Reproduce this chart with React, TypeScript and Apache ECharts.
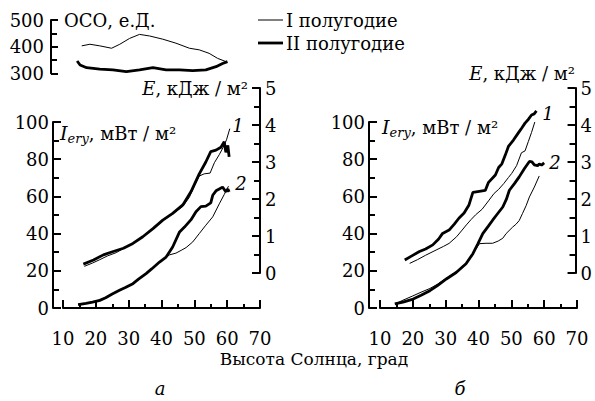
import React, { useEffect, useRef } from "react";
import * as echarts from "echarts";

// ---- data (x = solar elevation, deg) ----
const xTicks = [10, 20, 30, 40, 50, 60, 70];

// Total ozone, OCO (DU)
const ozoneH1: [number, number][] = [[15.7,403],[18.2,409],[21.2,403],[24.8,394],[27.3,409],[30.3,431],[33.3,446],[36.4,440],[40.4,428],[44.4,413],[48.5,394],[51.5,388],[54.5,375],[57.1,356],[59.6,344]];
const ozoneH2: [number, number][] = [[14.3,346],[15.2,331],[17.2,321],[21.2,316],[25.2,313],[29.3,306],[33.3,313],[37.4,321],[41.4,313],[45.5,313],[49.5,310],[53.5,313],[56.6,325],[58.6,337],[60.1,344]];

// Panel a: curve 2 = I_ery (mW/m2), curve 1 = E (kJ/m2)
const aIeryH1: [number, number][] = [[14.6,1.8],[17,2.4],[19,3.3],[21.2,4.3],[23,5.6],[25,7.4],[27.2,9.6],[29,11.2],[31.3,13.3],[33,15.4],[35.3,18.3],[37,21.2],[39.4,24.5],[41,26.8],[42.5,28.6],[44.4,29.5],[46,31],[47.5,32.5],[49.5,35.5],[51.5,40],[53.5,44.5],[55.6,49],[57.6,56],[59.1,61],[60.4,65.5]];
const aIeryH2: [number, number][] = [[14.6,1.8],[17,2.5],[19,3.2],[21.2,4.1],[23,5.5],[25,7.5],[27.2,9.5],[29,11],[31.3,13.1],[33,15.5],[35.3,18.5],[37,21],[39.4,24.7],[41.4,27.4],[43.4,32.8],[45.5,40.9],[47,43.5],[49,47.5],[50.5,51.8],[52,54.5],[53.5,54.8],[55,56.5],[55.6,60.6],[56.6,63],[57.6,64],[58.6,65],[59.6,62.5],[60.2,64],[60.6,62.4]];
const aDoseH1: [number, number][] = [[16.5,0.18],[19,0.27],[21.2,0.36],[23.5,0.46],[26.2,0.55],[28.4,0.66],[31.3,0.8],[34.3,0.97],[37.4,1.19],[40.4,1.42],[43.4,1.6],[46.5,1.8],[48.5,2.05],[50,2.35],[51.5,2.62],[53,2.68],[54.8,2.7],[56.1,2.98],[57.6,3.2],[58.8,3.4],[59.8,3.6],[60.8,3.9]];
const aDoseH2: [number, number][] = [[16.2,0.24],[19.3,0.35],[22.3,0.49],[25.3,0.58],[28.4,0.67],[31.3,0.8],[34.3,0.98],[37.4,1.2],[40.4,1.43],[43.4,1.61],[46.5,1.84],[49,2.2],[51.5,2.68],[53.5,3.0],[55,3.28],[56.6,3.32],[58.1,3.4],[59.1,3.55],[59.6,3.26],[60.2,3.45],[60.6,3.14]];

// Panel b
const bIeryH1: [number, number][] = [[15,2.5],[17,4.2],[20,6.5],[22.5,8.5],[25.2,10.5],[27.5,12.8],[30.2,16],[33.2,19.5],[36.2,24],[38.3,29.5],[39.3,32],[40.3,34.6],[42.3,34.8],[44.3,34.8],[46,36],[47.4,37.5],[48.4,40],[50.4,43.5],[51.4,45],[52.4,47],[53.4,50.8],[54.5,55],[55.5,59.7],[57,65],[58.5,71]];
const bIeryH2: [number, number][] = [[14.5,2.2],[17,3.2],[20.1,4.8],[22.5,6.8],[25.2,9.3],[27.5,12],[30.2,15.6],[33.2,19.1],[36.2,23.8],[38.3,29.2],[39.8,34.5],[41.3,40],[43,44],[44.3,47.2],[45.5,50],[47.4,54.3],[48.5,58.5],[49.4,63.3],[51,67],[52.4,70.5],[54,75],[55.5,78.8],[56.3,78.5],[57,77],[58,76.5],[58.5,77.5],[59.2,76.8],[60,78]];
const bDoseH1: [number, number][] = [[19.1,0.26],[21.5,0.36],[24,0.48],[27.2,0.62],[29.5,0.72],[31.2,0.8],[33.5,0.98],[35.2,1.16],[36.5,1.3],[38,1.45],[39.3,1.57],[41.3,1.72],[43.3,1.95],[45,2.15],[46.4,2.26],[48,2.42],[49.4,2.58],[50.4,2.69],[51.9,2.9],[53.4,3.25],[54.5,3.3],[55.5,3.55],[56.5,3.8],[57.5,4.08]];
const bDoseH2: [number, number][] = [[17.6,0.35],[19.5,0.45],[22.1,0.58],[24,0.65],[26.2,0.76],[28,0.92],[29.2,1.07],[31.2,1.16],[32.8,1.32],[34.2,1.48],[35.8,1.62],[37.3,1.84],[38.5,2.18],[40,2.2],[42.3,2.23],[43.3,2.45],[45.4,2.65],[46.4,2.85],[47.4,2.95],[48.5,3.2],[49.4,3.42],[51,3.6],[52.4,3.78],[53.5,3.92],[54.5,4.05],[55.5,4.15],[56.5,4.27],[57.3,4.3],[58,4.38]];

const legendNames = ["I полугодие", "II полугодие"];

const FONT = '"DejaVu Serif", "Liberation Serif", serif';
const FS = 18;
const THIN = 1;
const THICK = 2.8;

export default function App() {
  const ref = useRef<HTMLDivElement>(null);
  useEffect(() => {
    if (!ref.current) return;
    const chart = echarts.init(ref.current, undefined, { renderer: "svg" });

    const axisLine = { show: true, lineStyle: { color: "#000", width: 2 } };
    const label = (margin: number) => ({ color: "#000", fontFamily: FONT, fontSize: FS, margin });

    const hiddenX = (gridIndex: number) => ({ type: "value", gridIndex, min: 10, max: 70, interval: 10, show: false });

    const yAxis = (gridIndex: number, min: number, max: number, interval: number, position: string, offset: number, margin: number, tickLen: number, minorLen: number) => ({
      type: "value", gridIndex, min, max, interval, position, offset,
      axisLine, splitLine: { show: false },
      axisTick: { show: true, inside: true, length: tickLen, lineStyle: { color: "#000", width: 2 } },
      minorTick: { show: true, splitNumber: 2, length: minorLen, lineStyle: { color: "#000", width: 2 } },
      axisLabel: label(margin),
    });

    const shownX = (gridIndex: number) => ({
      type: "value", gridIndex, min: xTicks[0], max: xTicks[xTicks.length - 1], interval: 10, offset: 14,
      axisLine, splitLine: { show: false },
      axisTick: { show: true, inside: true, length: 8, lineStyle: { color: "#000", width: 2 } },
      minorTick: { show: true, splitNumber: 2, length: 4, lineStyle: { color: "#000", width: 2 } },
      axisLabel: label(7),
    });

    const line = (data: [number, number][], width: number, idx: number, name: string) => ({
      type: "line", name, data, xAxisIndex: idx, yAxisIndex: idx, showSymbol: false, symbol: "none",
      lineStyle: { color: "#000", width }, clip: false, z: width > 1 ? 3 : 4,
    });

    const txt = (x: number, y: number, text: string, align: string, extra: any = {}) => ({
      type: "text", x, y, silent: true,
      style: { text, fill: "#000", font: `${FS}px ${FONT}`, fontFamily: FONT, fontSize: FS, align, textAlign: align, verticalAlign: "middle", textVerticalAlign: "middle", ...extra },
    });

    const richE = {
      e: { fontFamily: FONT, fontSize: FS, fontStyle: "italic", fill: "#000", color: "#000" },
      n: { fontFamily: FONT, fontSize: FS, fill: "#000", color: "#000" },
    };
    const richI = {
      i: { fontFamily: FONT, fontSize: FS + 1, fontStyle: "italic", fill: "#000", color: "#000", lineHeight: 24 },
      s: { fontFamily: FONT, fontSize: 13, fontStyle: "italic", fill: "#000", color: "#000", lineHeight: 24, verticalAlign: "bottom", padding: [8, 0, 0, 0] },
      n: { fontFamily: FONT, fontSize: FS, fill: "#000", color: "#000", lineHeight: 24 },
    };

    const option: any = {
      animation: false,
      backgroundColor: "#fff",
      grid: [
        { left: 63, top: 20, width: 197, height: 53.3 },
        { left: 63, top: 122, width: 197, height: 186 },
        { left: 63, top: 88, width: 197, height: 185 },
        { left: 380, top: 122, width: 197, height: 186 },
        { left: 380, top: 88, width: 197, height: 185 },
      ],
      xAxis: [hiddenX(0), shownX(1), hiddenX(2), shownX(3), hiddenX(4)],
      yAxis: [
        yAxis(0, 300, 500, 100, "left", 12, 7, 7, 6),
        yAxis(1, 0, 100, 20, "left", 10, 4, 8, 6),
        yAxis(2, 0, 5, 1, "right", 0, 5, 8, 6),
        yAxis(3, 0, 100, 20, "left", 11, 4, 8, 6),
        yAxis(4, 0, 5, 1, "right", 0, 5, 8, 6),
      ],
      series: [
        line(ozoneH1, THIN, 0, legendNames[0]),
        line(ozoneH2, THICK, 0, legendNames[1]),
        line(aIeryH1, THIN, 1, legendNames[0]),
        line(aIeryH2, THICK, 1, legendNames[1]),
        line(aDoseH1, THIN, 2, legendNames[0]),
        line(aDoseH2, THICK, 2, legendNames[1]),
        line(bIeryH1, THIN, 3, legendNames[0]),
        line(bIeryH2, THICK, 3, legendNames[1]),
        line(bDoseH1, THIN, 4, legendNames[0]),
        line(bDoseH2, THICK, 4, legendNames[1]),
      ],
      graphic: [
        // legend
        { type: "line", shape: { x1: 258, y1: 20, x2: 283, y2: 20 }, style: { stroke: "#000", lineWidth: THIN } },
        { type: "line", shape: { x1: 258, y1: 43, x2: 283, y2: 43 }, style: { stroke: "#000", lineWidth: THICK } },
        txt(286, 20, legendNames[0], "left"),
        txt(286, 43, legendNames[1], "left"),
        // axis titles
        txt(64, 20, "ОСО, е.Д.", "left"),
        { type: "text", x: 248, y: 88, silent: true, style: { text: "{e|E}{n|, кДж / м²}", rich: richE, align: "right", textAlign: "right", verticalAlign: "middle", textVerticalAlign: "middle" } },
        { type: "text", x: 575, y: 73, silent: true, style: { text: "{e|E}{n|, кДж / м²}", rich: richE, align: "right", textAlign: "right", verticalAlign: "middle", textVerticalAlign: "middle" } },
        { type: "text", x: 60, y: 133, silent: true, style: { text: "{i|I}{s|ery}{n|, мВт / м²}", rich: richI, align: "left", textAlign: "left", verticalAlign: "middle", textVerticalAlign: "middle" } },
        { type: "text", x: 382, y: 127, silent: true, style: { text: "{i|I}{s|ery}{n|, мВт / м²}", rich: richI, align: "left", textAlign: "left", verticalAlign: "middle", textVerticalAlign: "middle" } },
        // curve numbers
        txt(238, 125, "1", "center", { fontStyle: "italic", font: `italic ${FS}px ${FONT}` }),
        txt(241, 183, "2", "center", { fontStyle: "italic", font: `italic ${FS}px ${FONT}` }),
        txt(548, 113, "1", "center", { fontStyle: "italic", font: `italic ${FS}px ${FONT}` }),
        txt(555, 162, "2", "center", { fontStyle: "italic", font: `italic ${FS}px ${FONT}` }),
        // x title and panel letters
        txt(314, 359, "Высота Солнца, град", "center", { fontSize: 17, font: `17px ${FONT}` }),
        txt(160, 388, "а", "center", { fontStyle: "italic", font: `italic ${FS + 2}px ${FONT}` }),
        txt(460, 388, "б", "center", { fontStyle: "italic", font: `italic ${FS + 2}px ${FONT}` }),
      ],
    };
    chart.setOption(option);
    return () => chart.dispose();
  }, []);
  return <div ref={ref} style={{ position: "fixed", left: 0, top: 0, width: 595, height: 401, background: "#fff" }} />;
}
